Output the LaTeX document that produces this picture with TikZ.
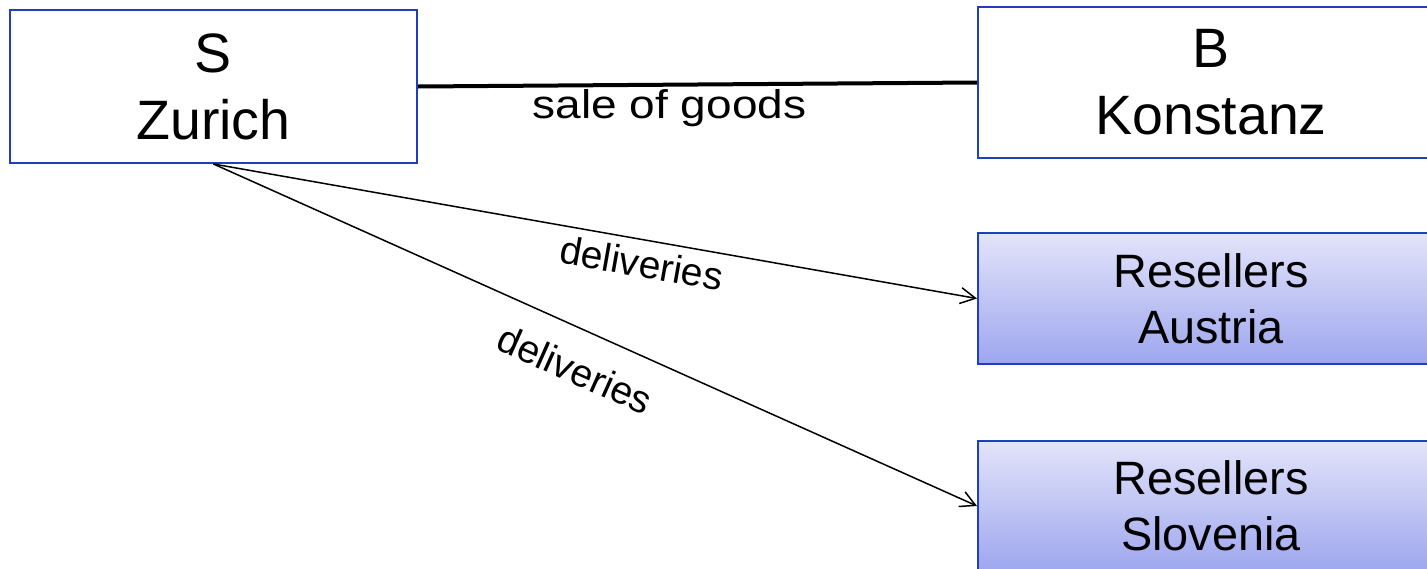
\documentclass[tikz,border=0pt]{standalone}
\usepackage{fontspec}
\setmainfont{Liberation Sans}
\usetikzlibrary{arrows.meta}
\definecolor{boxblue}{RGB}{31,63,191}
\definecolor{gradtop}{RGB}{226,228,250}
\definecolor{gradbot}{RGB}{158,166,238}
\begin{document}
\begin{tikzpicture}[x=1pt,y=-1pt,
  party/.style={draw=boxblue, line width=2pt, fill=white, align=center,
    font=\fontsize{55.5}{67}\selectfont, inner sep=0pt},
  reseller/.style={draw=boxblue, line width=2pt, top color=gradtop, bottom color=gradbot,
    align=center, font=\fontsize{46.8}{56}\selectfont, inner sep=0pt},
  lbl/.style={font=\fontsize{39}{46}\selectfont, inner xsep=0pt},
  deliv/.style={-{Straight Barb[length=15pt,width=16pt]}, line width=1.5pt},
  saleline/.style={line width=4pt},
]
\useasboundingbox (0,0) rectangle (1427,568);
\clip (0,0) rectangle (1427,568);
\node[party, minimum width=407pt, minimum height=153pt] (S) at (213.5,86.5) {S\\Zurich};
\node[party, minimum width=466pt, minimum height=151pt] (B) at (1211,82.5) {B\\Konstanz};
\node[reseller, minimum width=466pt, minimum height=131pt] (A) at (1211,298.5) {Resellers\\Austria};
\node[reseller, minimum width=466pt, minimum height=130pt] (Sl) at (1211,506) {Resellers\\Slovenia};
\draw[saleline] (S.east) -- node[pos=0.45, anchor=base, yshift=-33.3pt,
  font=\fontsize{40}{48}\selectfont] (sale) {\scalebox{1.15}[1]{sale of goods}} (B.west);
\draw[deliv] (S.south) -- node[lbl, pos=0.566, sloped, anchor=north, inner ysep=8.2pt] (d1) {deliveries} (A.west);
\draw[deliv] (S.south) -- node[lbl, pos=0.495, sloped, anchor=north, inner ysep=24.5pt] (d2) {deliveries} (Sl.west);
\end{tikzpicture}
\end{document}
